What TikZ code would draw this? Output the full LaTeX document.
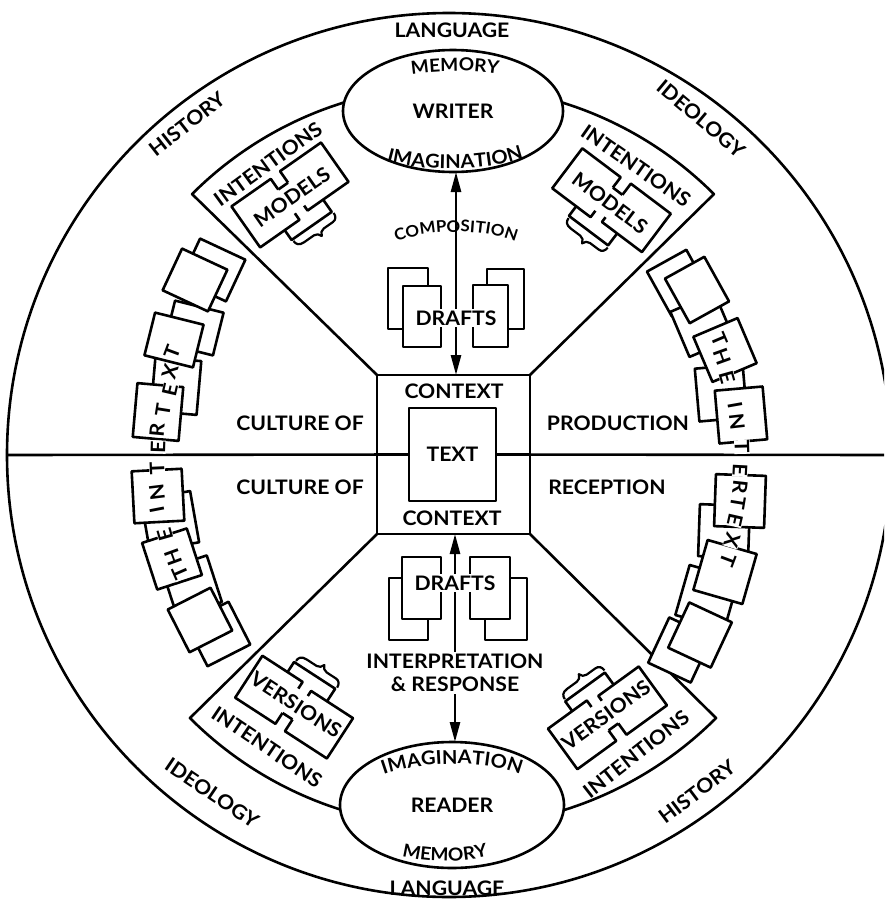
\documentclass[tikz,border=0pt]{standalone}
\usepackage{fontspec}
\setmainfont{Lato}[FakeStretch=1.06]
\usetikzlibrary{arrows.meta,shapes.geometric,decorations.text}

\newcommand{\labfont}{\fontsize{20}{23}\selectfont\bfseries}
\newcommand{\memfont}{\fontsize{18}{20}\selectfont\bfseries}
\newcommand{\imgfont}{\fontsize{19}{20}\selectfont\bfseries}
\newcommand{\cmpfont}{\fontsize{16}{20}\selectfont\bfseries}
\newcommand{\drfont}{\fontsize{20}{22}\selectfont\bfseries}

% two sheets side by side on a third one, with a brace under the stack
\newcommand{\docstack}[6]{%
  \begin{scope}[shift={(#1,#2)},rotate=#3,yscale=#4]
    \draw[fill=white] (-25,-35) rectangle (24,14);
    \fill[white] (-55,-23) rectangle (-7,27);
    \fill[white] (5,-20) rectangle (55,28);
    \draw (-7,14) -- (-7,27) -- (-55,27) -- (-55,-23) -- (-7,-23) -- (-7,-15);
    \draw (5,14) -- (5,28) -- (55,28) -- (55,-20) -- (5,-20) -- (5,-14);
    \draw[line width=2.2pt] (-24,-37) .. controls (-24,-41) and (-22,-44) .. (-16,-44) -- (-4,-44)
      .. controls (-1,-44) and (1,-46) .. (2,-49)
      .. controls (3,-46) and (5,-44) .. (8,-44) -- (19,-44)
      .. controls (23,-44) and (25,-41) .. (25,-37);
  \end{scope}
  \node[lbl,rotate=#3] (#6) at (#1,#2) {#5};
}

\begin{document}
\begin{tikzpicture}[x=1pt,y=-1pt,line width=2.6pt,line join=round,
  lbl/.style={font=\labfont,inner sep=1pt},
  ltr/.style={font=\labfont,fill=white,inner sep=0.5pt},
  pg/.style={draw,fill=white,inner sep=0pt,outer sep=0pt},
  dbl/.style={{Triangle[length=20pt,width=10pt]}-{Triangle[length=20pt,width=10pt]}}]

\useasboundingbox (0,0) rectangle (884,900);
\clip (0,0) rectangle (884,900);

% outer ring
\draw (449,455) circle [radius=442];
\coordinate (wl) at (7,455);
\coordinate (wr) at (884,455);

% context square and text square
\node[draw,minimum width=153,minimum height=159,outer sep=0pt] (ctx) at (453.5,454.5) {};
\node[draw,fill=white,minimum width=87,minimum height=93,outer sep=0pt,font=\labfont] (txt) at (452.5,454.5) {TEXT};
\draw (wl) -- (txt.west);
\draw (txt.east) -- (wr);
\node[lbl] (ctxt) at (454,391) {CONTEXT};
\node[lbl] (ctxb) at (452,518) {CONTEXT};

% the four sectors
\begin{scope}[shift={(453,455)},yscale=-1]
  \draw (ctx.north west) -- (135:369) arc[start angle=135,end angle=100,radius=369];
  \draw (ctx.north east) -- (45:369) arc[start angle=45,end angle=80,radius=369];
  \draw (ctx.south west) -- (225:372) arc[start angle=225,end angle=260,radius=372];
  \draw (ctx.south east) -- (-45:372) arc[start angle=-45,end angle=-80,radius=372];
\end{scope}

% writer and reader
\node[draw,fill=white,ellipse,minimum width=220,minimum height=122,inner sep=0pt,outer sep=0pt,font=\labfont] (wri) at (453,111) {WRITER};
\node[draw,fill=white,ellipse,minimum width=224,minimum height=126,inner sep=0pt,outer sep=0pt,font=\labfont] (rdr) at (452,805) {READER};
\path[decorate,decoration={text along path,text align=center,text={|\memfont|MEMORY}}]
  (385,80) .. controls (425,68) and (485,68) .. (525,80);
\path[decorate,decoration={text along path,text align=center,text={|\imgfont|IMAGINATION}}]
  (383,160) .. controls (420,172) and (490,172) .. (527,157);
\path[decorate,decoration={text along path,text align=center,text={|\imgfont|IMAGINATION}}]
  (380,776) .. controls (420,760) and (490,760) .. (524,776);
\path[decorate,decoration={text along path,text align=center,text={|\memfont|MEMORY}}]
  (390,852) .. controls (420,864) and (470,864) .. (500,852);

% outer ring labels
\node[lbl] (lgt) at (452,30) {LANGUAGE};
\node[lbl] (lgb) at (447,888) {LANGUAGE};
\node[lbl,rotate=38] (hs1) at (187,124) {HISTORY};
\node[lbl,rotate=-40] (id1) at (701,119) {IDEOLOGY};
\node[lbl,rotate=-34] (id2) at (212,793) {IDEOLOGY};
\node[lbl,rotate=37] (hs2) at (697,792) {HISTORY};

% cultures
\node[lbl] (cu1) at (300,423) {CULTURE OF};
\node[lbl] (cu2) at (300,487) {CULTURE OF};
\node[lbl] (prd) at (618,423) {PRODUCTION};
\node[lbl] (rcp) at (607,487) {RECEPTION};

% composition: drafts between writer and text
\draw[fill=white] (388,268) rectangle (428,329);
\draw[fill=white] (487,269) rectangle (524,329);
\draw[fill=white] (403,286) rectangle (441,347);
\draw[fill=white] (473,285) rectangle (508,347);
\draw[dbl] (456,0 |- wri.south) -- (456,0 |- ctx.north);
\node[font=\drfont,fill=white,inner sep=1.5pt] (dft) at (456,318) {DRAFTS};
\path[decorate,decoration={text along path,text align=center,text={|\cmpfont|COMPOSITION}}]
  (385,247) .. controls (420,227) and (492,227) .. (527,247);

% reception: drafts between text and reader
\draw[fill=white] (389,578) rectangle (428,640);
\draw[fill=white] (485,578) rectangle (527,640);
\draw[fill=white] (402,557) rectangle (441,619);
\draw[fill=white] (470,557) rectangle (510,619);
\draw[dbl] (455,0 |- ctx.south) -- (455,0 |- rdr.north);
\node[font=\drfont,fill=white,inner sep=1.5pt] (dfb) at (455,583) {DRAFTS};
\node[font=\labfont,fill=white,align=center,inner sep=2pt] (irp) at (455,673) {INTERPRETATION\\\& RESPONSE};

% intentions, models and versions
\node[lbl,rotate=36] (in1) at (268,164) {INTENTIONS};
\node[lbl,rotate=-35] (in2) at (636,166) {INTENTIONS};
\node[lbl,rotate=-34] (in3) at (267,747) {INTENTIONS};
\node[lbl,rotate=38] (in4) at (636,754) {INTENTIONS};
\docstack{292}{197}{35}{-1}{MODELS}{md1}
\docstack{610}{203}{-37}{-1}{MODELS}{md2}
\docstack{296}{705}{-33}{1}{VERSIONS}{vs1}
\docstack{606}{715}{36}{1}{VERSIONS}{vs2}

% the intertext: sheets behind, then sheets in front
\foreach \x/\y/\r/\w/\h [count=\i] in {
  213/270/65/46/50, 194/328/76/44/50, 176/386/85/54/46,
  170/521/100/52/50, 192/586/108/49/47, 218/634/117/48/48,
  679/283/-61/51/45, 702/325/-67/49/48, 721/393/-85/53/48,
  724/531/-92/52/50, 707/597/-106/52/51, 680/650/-115/50/47}
  \node[pg,rotate=\r,minimum width=\w,minimum height=\h] (bk\i) at (\x,\y) {};
\foreach \x/\y/\r/\w/\h [count=\i] in {
  195/280/65/46/50, 174/340/76/44/50, 158/412/85/54/46,
  158/496/93/52/50, 172/559/108/49/47, 200/620/117/48/48,
  697/290/-61/51/45, 725/350/-67/49/48, 741/415/-85/53/48,
  740/501/-92/52/50, 725/572/-106/52/51, 700/635/-115/50/47}
  \node[pg,rotate=\r,minimum width=\w,minimum height=\h] (fr\i) at (\x,\y) {};
\foreach \c/\x/\y/\r [count=\i] in {
  T/180/573/113.7, H/173/557/110, E/165/535/106, I/157/510/101,
  N/157/492/97, T/157/468/92.5, E/158/447/88.4, R/157/430/85,
  T/163/410/81, E/170/390/77, X/170/372/73.4, T/172/352/69.6}
  \node[ltr,rotate=\r] (lt\i) at (\x,\y) {\c};
\foreach \c/\x/\y/\r [count=\i] in {
  T/720/340/-67, H/722/357/-70.3, E/727/377/-74.3, I/735/405/-80,
  N/737/422/-83.5, T/742/447/-88.4, E/740/470/-93, R/740/487/-96.3,
  T/738/503/-99.4, E/735/520/-102.8, X/732/540/-106.7, T/728/560/-110.6}
  \node[ltr,rotate=\r] (rt\i) at (\x,\y) {\c};
\end{tikzpicture}
\end{document}
